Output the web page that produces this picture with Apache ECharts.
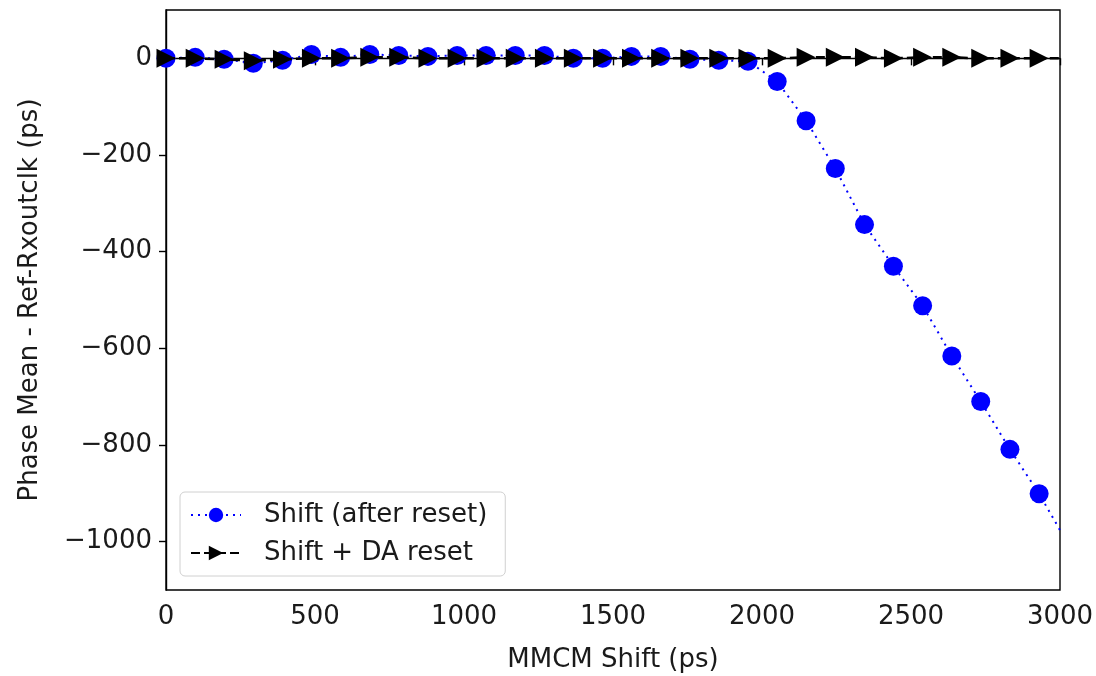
<!DOCTYPE html>
<html>
<head>
<meta charset="utf-8">
<script src="https://cdn.jsdelivr.net/npm/echarts@6/dist/echarts.min.js"></script>
<style>
html, body { margin: 0; padding: 0; background: #fff; }
#chart { width: 1096px; height: 676px; }
</style>
</head>
<body>
<div id="chart"></div>
<script>
// MMCM shift (ps)
var shiftPs = [0, 98, 195, 293, 391, 488, 586, 684, 781, 879, 977, 1074, 1172, 1270, 1367, 1465,
    1562, 1660, 1758, 1855, 1953, 2051, 2148, 2246, 2344, 2441, 2539, 2637, 2734, 2832, 2930, 3027];
// phase mean - ref-rxoutclk (ps)
var afterReset = [0, 2, -2, -10, -4, 8, 2, 8, 6, 4, 6, 6, 6, 6, 0, 0,
    4, 4, -2, -4, -6, -48, -129, -228, -344, -430, -512, -616, -710, -809, -901, -1005];
var daReset = [0, 0, -2, -5, -2, 0, 0, 2, 2, 0, 0, 0, 0, 0, 0, 0,
    0, 0, 0, 0, 0, 0, 2, 2, 2, 0, 2, 2, 0, 0, 0, 0];
var yTicks = [0, -200, -400, -600, -800, -1000];

var toPairs = function (xs, ys) {
    return xs.map(function (x, i) { return [x, ys[i]]; });
};
var minus = function (v) { return String(v).replace('-', '\u2212'); };

var chart = echarts.init(document.getElementById('chart'));
var font = 'DejaVu Sans';
var fs = 26;
var txt = '#1a1a1a';

var option = {
    backgroundColor: '#fff',
    animation: false,
    textStyle: { fontFamily: font },
    grid: {
        left: 166, right: 36, top: 10, bottom: 86,
        outerBoundsMode: 'none',
        show: true, borderColor: '#000', borderWidth: 1.4
    },
    legend: {
        orient: 'vertical',
        left: 180, top: 492,
        padding: [10, 18, 10, 10],
        itemGap: 12,
        itemWidth: 50,
        itemHeight: 18,
        backgroundColor: '#fff',
        borderColor: '#d0d0d0',
        borderWidth: 1,
        borderRadius: 5,
        textStyle: { fontFamily: font, fontSize: fs, color: txt, padding: [0, 0, 0, 18] },
        data: ['Shift (after reset)', 'Shift + DA reset']
    },
    xAxis: {
        type: 'value',
        min: 0, max: 3000, interval: 500,
        name: 'MMCM Shift (ps)',
        nameLocation: 'middle',
        nameGap: 57,
        nameTextStyle: { fontFamily: font, fontSize: fs, color: txt },
        splitLine: { show: false },
        axisLine: { lineStyle: { color: '#000', width: 1.4 } },
        axisTick: { length: 7, lineStyle: { color: '#000', width: 1.4 } },
        axisLabel: { fontFamily: font, fontSize: fs, color: txt, margin: 14, formatter: String }
    },
    yAxis: {
        type: 'value',
        min: -1100, max: 100,
        name: 'Phase Mean - Ref-Rxoutclk (ps)',
        nameLocation: 'middle',
        nameGap: 123,
        nameTextStyle: { fontFamily: font, fontSize: fs, color: txt },
        splitLine: { show: false },
        axisLine: { onZero: false, lineStyle: { color: '#000', width: 1.4 } },
        axisTick: { length: 7, customValues: yTicks, lineStyle: { color: '#000', width: 1.4 } },
        axisLabel: {
            fontFamily: font, fontSize: fs, color: txt, margin: 14,
            customValues: yTicks,
            formatter: minus
        }
    },
    series: [
        {
            name: 'Shift (after reset)',
            type: 'line',
            data: toPairs(shiftPs, afterReset),
            clip: true,
            symbol: 'circle',
            symbolSize: 19,
            color: '#0000ff',
            itemStyle: { color: '#0000ff' },
            lineStyle: { color: '#0000ff', width: 2, type: [2, 5] },
            z: 2
        },
        {
            name: 'Shift + DA reset',
            type: 'line',
            data: toPairs(shiftPs, daReset),
            clip: true,
            symbol: 'triangle',
            symbolRotate: -90,
            symbolSize: 19,
            color: '#000',
            itemStyle: { color: '#000' },
            lineStyle: { color: '#000', width: 2.5, type: [9, 4] },
            z: 3
        }
    ]
};

chart.setOption(option);
</script>
</body>
</html>
